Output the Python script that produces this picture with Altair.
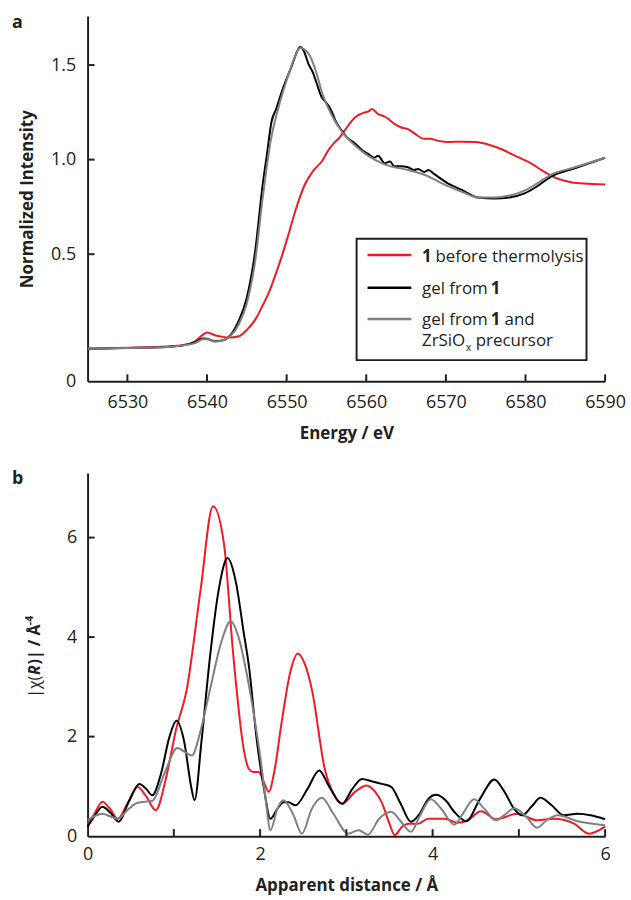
import altair as alt
import pandas as pd

FONT = "Open Sans"
INK = "#231f20"

SERIES = ["1 before thermolysis", "gel from 1", "gel from 1 and ZrSiOx precursor"]
COLORS = ["#ed1c24", "#000000", "#808080"]

# ---- panel a: Zr K-edge XANES ----
E_RED = [6525, 6530, 6535, 6537, 6538.5, 6539.5, 6540, 6541, 6542, 6543, 6544, 6545, 6546, 6547,
         6547.75, 6548.5, 6549.4, 6550.2, 6551.1, 6552.3, 6553.4, 6554.4, 6555.25, 6556, 6556.5,
         6557.3, 6558.6, 6559.8, 6560.3, 6560.7, 6561.5, 6562.2, 6562.75, 6563.5, 6564.4, 6565.3,
         6566.1, 6567.3, 6568, 6569, 6570.25, 6572, 6573.6, 6575.7, 6577, 6578.2, 6579.5, 6580.7,
         6582, 6582.75, 6584, 6584.8, 6586, 6587.3, 6590]
I_RED = [0.0, 0.005, 0.012, 0.02, 0.04, 0.075, 0.086, 0.072, 0.063, 0.06, 0.066, 0.10, 0.15, 0.23,
         0.295, 0.38, 0.49, 0.60, 0.73, 0.87, 0.944, 0.99, 1.05, 1.09, 1.11,
         1.155, 1.224, 1.25, 1.255, 1.268, 1.24, 1.23, 1.216, 1.19, 1.17, 1.16,
         1.137, 1.11, 1.11, 1.10, 1.093, 1.095, 1.093, 1.075, 1.055, 1.03, 1.005, 0.98,
         0.945, 0.926, 0.90, 0.89, 0.878, 0.874, 0.868]

E_GEL = [6525, 6530, 6535, 6537, 6538.5, 6539.5, 6540, 6541, 6542, 6543, 6544, 6545, 6546, 6547,
         6547.5, 6548.1, 6548.7, 6549.4, 6550.6, 6551.7, 6552.2, 6552.75, 6553.3, 6553.8, 6554.4,
         6554.8, 6555.6, 6556.2, 6556.9, 6557.5, 6558.6, 6559.5, 6560.25, 6561, 6561.5,
         6562, 6562.3, 6563, 6563.5, 6564.3, 6565.25, 6566, 6566.5, 6567.3, 6567.8,
         6568.5, 6570.25, 6572, 6574, 6576.1, 6578, 6579.8, 6581.5, 6583.2, 6586.1, 6590]
I_GEL = [0.0, 0.004, 0.01, 0.018, 0.035, 0.055, 0.053, 0.04, 0.045, 0.075, 0.15, 0.27, 0.50, 0.87,
         1.02, 1.20, 1.27, 1.36, 1.49, 1.595, 1.57, 1.505, 1.46, 1.40, 1.33,
         1.31, 1.26, 1.20, 1.155, 1.12, 1.085, 1.05, 1.03, 1.01, 1.02,
         0.995, 0.98, 0.99, 0.965, 0.965, 0.96, 0.945, 0.95, 0.935, 0.945,
         0.925, 0.875, 0.84, 0.80, 0.795, 0.80, 0.82, 0.86, 0.91, 0.953, 1.01]

E_MIX = [6525, 6530, 6535, 6537, 6538.5, 6539.5, 6540, 6541, 6542, 6543, 6544, 6545, 6546, 6547,
         6548, 6549, 6550, 6551, 6551.7, 6552.75, 6553.8, 6554.4, 6555.6, 6556.9,
         6558.6, 6560.25, 6562.3, 6565.25, 6567.3, 6570.25, 6572, 6574, 6576.1, 6578,
         6579.8, 6581.5, 6583.2, 6586.1, 6590]
I_MIX = [0.0, 0.004, 0.01, 0.018, 0.03, 0.05, 0.05, 0.038, 0.045, 0.07, 0.13, 0.24, 0.45, 0.80,
         1.10, 1.28, 1.42, 1.54, 1.59, 1.56, 1.45, 1.36, 1.24, 1.15,
         1.075, 1.02, 0.975, 0.945, 0.92, 0.86, 0.83, 0.80, 0.80, 0.81,
         0.835, 0.875, 0.92, 0.958, 1.01]

E_TICKS = [6530, 6540, 6550, 6560, 6570, 6580, 6590]
I_TICKS = [0.5, 1.0, 1.5]
I_BREAK = -0.172  # bottom of the broken intensity axis, labelled "0"

# ---- panel b: Fourier-transformed EXAFS ----
R_RED = [0.0, 0.08, 0.17, 0.26, 0.35, 0.46, 0.58, 0.68, 0.79, 0.90, 0.95, 1.02, 1.15, 1.31, 1.454,
         1.58, 1.69, 1.81, 1.87, 1.92, 1.985, 2.04, 2.10, 2.17, 2.25, 2.35, 2.438, 2.52, 2.60, 2.75,
         2.85, 2.95, 3.10, 3.235, 3.33, 3.41, 3.50, 3.56, 3.64, 3.72, 3.83, 3.95, 4.14, 4.29, 4.41,
         4.56, 4.735, 4.98, 5.21, 5.41, 5.64, 5.81, 6.0]
X_RED = [0.25, 0.45, 0.69, 0.55, 0.35, 0.65, 0.99, 0.80, 0.52, 1.10, 1.50, 2.10, 2.95, 4.95, 6.63,
         5.89, 3.62, 1.75, 1.35, 1.29, 1.29, 1.10, 0.89, 1.35, 2.29, 3.30, 3.67, 3.45, 2.95, 1.35,
         0.85, 0.65, 0.89, 1.02, 0.90, 0.68, 0.25, 0.02, 0.18, 0.25, 0.25, 0.35, 0.35, 0.27, 0.32,
         0.50, 0.34, 0.45, 0.32, 0.35, 0.25, 0.05, 0.19]

R_GEL = [0.0, 0.08, 0.17, 0.26, 0.36, 0.48, 0.60, 0.68, 0.75, 0.85, 0.95, 1.03, 1.12, 1.20, 1.24,
         1.32, 1.42, 1.52, 1.623, 1.72, 1.81, 1.87, 1.96, 2.05, 2.12, 2.20, 2.27, 2.33, 2.41, 2.55,
         2.685, 2.80, 2.95, 3.07, 3.18, 3.30, 3.41, 3.52, 3.63, 3.75, 3.85, 3.95, 4.04, 4.15, 4.25,
         4.39, 4.55, 4.715, 4.83, 4.945, 5.04, 5.15, 5.25, 5.38, 5.52, 5.68, 5.83, 6.0]
X_GEL = [0.19, 0.40, 0.59, 0.48, 0.29, 0.70, 1.05, 0.95, 0.82, 1.25, 2.0, 2.32, 1.90, 1.00, 0.72,
         1.90, 3.62, 4.95, 5.59, 5.10, 4.09, 3.42, 1.95, 0.90, 0.35, 0.55, 0.68, 0.68, 0.62, 0.95,
         1.32, 1.00, 0.65, 0.95, 1.15, 1.10, 1.05, 0.99, 0.65, 0.29, 0.45, 0.75, 0.83, 0.72, 0.49,
         0.30, 0.75, 1.14, 0.90, 0.55, 0.42, 0.60, 0.77, 0.62, 0.42, 0.45, 0.42, 0.34]

R_MIX = [0.0, 0.08, 0.17, 0.26, 0.35, 0.46, 0.58, 0.75, 0.90, 1.04, 1.12, 1.21, 1.30, 1.42, 1.55,
         1.66, 1.75, 1.85, 1.95, 2.0, 2.06, 2.12, 2.20, 2.27, 2.38, 2.485, 2.60, 2.715, 2.85, 3.02,
         3.14, 3.25, 3.38, 3.52, 3.63, 3.75, 3.85, 3.98, 4.10, 4.25, 4.35, 4.48, 4.60, 4.735, 4.85,
         4.945, 5.08, 5.21, 5.33, 5.45, 5.68, 6.0]
X_MIX = [0.32, 0.40, 0.45, 0.40, 0.35, 0.52, 0.67, 0.71, 1.30, 1.77, 1.70, 1.62, 2.05, 2.95, 3.90,
         4.32, 4.00, 3.22, 2.20, 1.62, 0.80, 0.12, 0.55, 0.72, 0.45, 0.05, 0.55, 0.77, 0.45, 0.05,
         0.12, 0.03, 0.35, 0.49, 0.30, 0.086, 0.40, 0.74, 0.55, 0.23, 0.45, 0.74, 0.55, 0.32, 0.45,
         0.56, 0.40, 0.17, 0.33, 0.42, 0.30, 0.22]

R_TICKS = [1, 2, 3, 4, 5, 6]
R_LABELS = [0, 2, 4, 6]
CHI_TICKS = [2, 4, 6]

W = 520
HA = 367
HB = 365
TICK = 7


def table(xname, yname, xs, ys, name):
    return pd.DataFrame({xname: xs, yname: ys, "series": name})


color = alt.Color("series:N", scale=alt.Scale(domain=SERIES, range=COLORS), legend=None)
one = pd.DataFrame({"k": [0]})


def label(text, x, y, size=17, weight="normal", style="normal", angle=0, color=INK):
    return alt.Chart(one).mark_text(
        text=text, font=FONT, fontSize=size, fontWeight=weight, fontStyle=style, angle=angle,
        color=color, align="left", baseline="alphabetic").encode(x=alt.value(x), y=alt.value(y))


# ---------------- panel a ----------------
xa = alt.X("E:Q", scale=alt.Scale(domain=[6525, 6590], nice=False, zero=False),
           axis=alt.Axis(values=E_TICKS, format="d", title="Energy / eV",
                         labelPadding=12, titlePadding=14))
ya = alt.Y("I:Q", scale=alt.Scale(domain=[I_BREAK, 1.759], nice=False, zero=False),
           axis=alt.Axis(values=[I_BREAK] + I_TICKS, title="Normalized Intensity",
                         labelExpr="datum.value < 0 ? '0' : format(datum.value, '.1f')",
                         labelPadding=12, titlePadding=14))

curves_a = [
    alt.Chart(table("E", "I", xs, ys, name)).mark_line(strokeWidth=2, interpolate="monotone")
    .encode(x=xa, y=ya, color=color)
    for xs, ys, name in [(E_RED, I_RED, SERIES[0]), (E_GEL, I_GEL, SERIES[1]), (E_MIX, I_MIX, SERIES[2])]
]

xticks_a = alt.Chart(pd.DataFrame({"E": E_TICKS})).mark_rule(strokeWidth=2, color=INK).encode(
    x=xa, y=alt.value(HA), y2=alt.value(HA - TICK))
yticks_a = alt.Chart(pd.DataFrame({"I": I_TICKS})).mark_rule(strokeWidth=2, color=INK).encode(
    y=ya, x=alt.value(0), x2=alt.value(TICK))

# legend box, drawn inside the plot area
box = alt.Chart(one).mark_rect(fill="white", stroke=INK, strokeWidth=2).encode(
    x=alt.value(270.3), x2=alt.value(501.3), y=alt.value(223.7), y2=alt.value(345.7))
swatches = [
    alt.Chart(one).mark_rule(strokeWidth=2.5, color=c).encode(
        x=alt.value(281.3), x2=alt.value(325.3), y=alt.value(yy))
    for c, yy in zip(COLORS, [240, 273, 304.5])
]
legend_text = [
    label("1", 336, 246.7, weight="bold"),
    label("before thermolysis", 349.5, 246.7),
    label("gel from", 336, 279),
    label("1", 405, 279, weight="bold"),
    label("gel from", 336, 310),
    label("1", 405, 310, weight="bold"),
    label("and", 419, 310),
    label("ZrSiO", 336, 331.7),
    label("x", 380, 336.5, size=11),
    label("precursor", 390, 331.7),
]

panel_a = alt.layer(
    *curves_a, xticks_a, yticks_a, box, *swatches, *legend_text,
    label("a", -76, 12, size=18, weight="bold"),
).properties(width=W, height=HA)

# ---------------- panel b ----------------
xb = alt.X("R:Q", scale=alt.Scale(domain=[0, 6], nice=False),
           axis=alt.Axis(values=R_LABELS, title="Apparent distance / Å",
                         labelPadding=9.5, titlePadding=14))
yb = alt.Y("chi:Q", scale=alt.Scale(domain=[0, 7.3], nice=False),
           axis=alt.Axis(values=[0] + CHI_TICKS, title=None, labelPadding=11))

curves_b = [
    alt.Chart(table("R", "chi", xs, ys, name)).mark_line(strokeWidth=2, interpolate="monotone")
    .encode(x=xb, y=yb, color=color)
    for xs, ys, name in [(R_RED, X_RED, SERIES[0]), (R_GEL, X_GEL, SERIES[1]), (R_MIX, X_MIX, SERIES[2])]
]
xticks_b = alt.Chart(pd.DataFrame({"R": R_TICKS})).mark_rule(strokeWidth=2, color=INK).encode(
    x=xb, y=alt.value(HB), y2=alt.value(HB - TICK))
yticks_b = alt.Chart(pd.DataFrame({"chi": CHI_TICKS})).mark_rule(strokeWidth=2, color=INK).encode(
    y=yb, x=alt.value(0), x2=alt.value(TICK))

# rotated y title |χ(R)| / Å⁻⁴ with mixed weights, reading bottom to top
ytitle_b = [
    label("|χ(", -48, 226, size=16, angle=270),
    label("R", -48, 203, size=16, weight="bold", style="italic", angle=270),
    label(")| / Å", -48, 192.5, size=16, weight="bold", angle=270),
    label("-4", -54.5, 153, size=10.5, weight="bold", angle=270),
]

panel_b = alt.layer(
    *curves_b, xticks_b, yticks_b, *ytitle_b,
    label("b", -76, 11.3, size=18, weight="bold"),
).properties(width=W, height=HB)

chart = alt.vconcat(panel_a, panel_b, spacing=29).properties(
    padding={"left": 12, "top": 12, "right": 5, "bottom": 2}
).configure_view(stroke=None).configure_axis(
    grid=False, ticks=False, labelFlush=False, domainColor=INK, domainWidth=2,
    labelFont=FONT, labelFontSize=18, labelColor=INK,
    titleFont=FONT, titleFontSize=17, titleFontWeight="bold", titleColor=INK,
).configure_concat(spacing=29)

chart.save("out.html", embed_options={"renderer": "svg", "actions": False})
